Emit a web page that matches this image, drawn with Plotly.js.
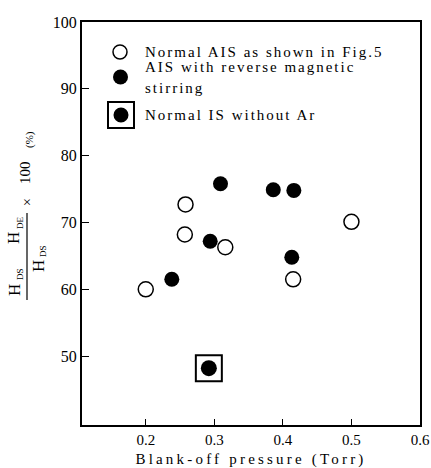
<!DOCTYPE html>
<html><head><meta charset="utf-8">
<script src="https://cdn.plot.ly/plotly-3.0.1.min.js"></script>
<style>html,body{margin:0;padding:0;background:#fff}</style>
</head><body>
<div id="chart" style="width:431px;height:468px"></div>
<script>
// Normal AIS as shown in Fig.5 (open circles)
const openX = [0.200, 0.258, 0.257, 0.316, 0.415, 0.500];
const openY = [60.0, 72.7, 68.2, 66.3, 61.5, 70.1];
// AIS with reverse magnetic stirring (filled circles)
const filledX = [0.238, 0.309, 0.294, 0.386, 0.416, 0.413];
const filledY = [61.5, 75.8, 67.2, 74.9, 74.8, 64.8];
// Normal IS without Ar (boxed filled circle)
const boxedX = [0.292];
const boxedY = [48.2];

const legendLines = ["Normal AIS as shown in Fig.5", "AIS with reverse magnetic", "stirring", "Normal IS without Ar"];
const xTicks = [0.2, 0.3, 0.4, 0.5, 0.6];
const yTicks = [50, 60, 70, 80, 90, 100];

const W = 431, H = 468, ML = 82, MR = 11, MT = 22, MB = 43;
const PW = W - ML - MR, PH = H - MT - MB;
const px = v => (v - ML) / PW;
const py = v => (H - MB - v) / PH;
const FONT = "Liberation Serif, Times New Roman, serif";

const traces = [
  {x: openX, y: openY, mode: "markers", type: "scatter", name: "Normal AIS as shown in Fig.5",
   marker: {symbol: "circle-open", size: 15, color: "#000", line: {width: 1.5, color: "#000"}}},
  {x: filledX, y: filledY, mode: "markers", type: "scatter", name: "AIS with reverse magnetic stirring",
   marker: {symbol: "circle", size: 15, color: "#000"}},
  {x: boxedX, y: boxedY, mode: "markers", type: "scatter", name: "Normal IS without Ar",
   marker: {symbol: "square-open", size: 26, color: "#000", line: {width: 2, color: "#000"}}},
  {x: boxedX, y: boxedY, mode: "markers", type: "scatter", name: "Normal IS without Ar", showlegend: false,
   marker: {symbol: "circle", size: 16, color: "#000"}}
];

const sp = (t, s, size) => '<span style="letter-spacing:' + s + 'px;font-size:' + size + 'px">' + t + '</span>';

function ann(xp, yp, text, size, extra) {
  return Object.assign({xref: "paper", yref: "paper", x: px(xp), y: py(yp), text: text, showarrow: false,
    xanchor: "center", yanchor: "middle", font: {family: FONT, size: size, color: "#000"}}, extra || {});
}
const rot = {textangle: -90};

const annotations = [
  ann(143, 52, sp(legendLines[0], 2.0, 15), 15, {xanchor: "left"}),
  ann(143, 67, sp(legendLines[1], 2.0, 15), 15, {xanchor: "left"}),
  ann(143, 88, sp(legendLines[2], 2.0, 15), 15, {xanchor: "left"}),
  ann(143, 115, sp(legendLines[3], 2.0, 15), 15, {xanchor: "left"}),
  // y axis label: (H_DS  H_DE) / H_DS x 100 (%)
  ann(14, 290, "H", 17, rot),
  ann(20, 274, "DS", 9, rot),
  ann(14, 238, "H", 17, rot),
  ann(20, 223, "DE", 9, rot),
  ann(38, 266, "H", 17, rot),
  ann(43, 251, "DS", 9, rot),
  ann(27, 202, "×", 14, rot),
  ann(25, 173, "100", 15, rot),
  ann(29, 140, "(%)", 11, rot)
];

const shapes = [
  // legend keys
  {type: "circle", xref: "paper", yref: "paper", x0: px(113), x1: px(127), y0: py(59), y1: py(45), line: {color: "#000", width: 1.5}},
  {type: "circle", xref: "paper", yref: "paper", x0: px(113), x1: px(128), y0: py(84.5), y1: py(69.5), fillcolor: "#000", line: {color: "#000", width: 0}},
  {type: "rect", xref: "paper", yref: "paper", x0: px(108), x1: px(134), y0: py(128), y1: py(102), line: {color: "#000", width: 2}},
  {type: "circle", xref: "paper", yref: "paper", x0: px(113.5), x1: px(128.5), y0: py(122.5), y1: py(107.5), fillcolor: "#000", line: {color: "#000", width: 0}},
  // fraction bar of y label
  {type: "line", xref: "paper", yref: "paper", x0: px(27), x1: px(27), y0: py(213), y1: py(300), line: {color: "#000", width: 1.2}}
];

const layout = {
  width: W, height: H,
  margin: {l: ML, r: MR, t: MT, b: MB},
  paper_bgcolor: "#fff", plot_bgcolor: "#fff",
  showlegend: false,
  font: {family: FONT, color: "#000", size: 15},
  xaxis: {
    range: [0.107, 0.6], tickvals: xTicks, ticktext: xTicks.map(v => v.toFixed(1)),
    ticks: "inside", ticklen: 6, tickwidth: 1.2, tickcolor: "#000",
    showline: true, linewidth: 2, linecolor: "#000", mirror: true,
    showgrid: false, zeroline: false,
    tickfont: {family: FONT, size: 15, color: "#000"},
    title: {text: sp("Blank-off pressure (Torr)", 3.2, 15), font: {family: FONT, size: 15, color: "#000"}, standoff: 6}
  },
  yaxis: {
    range: [39.7, 100], tickvals: yTicks, ticktext: yTicks.map(String),
    ticks: "inside", ticklen: 7, tickwidth: 1.2, tickcolor: "#000",
    showline: true, linewidth: 2, linecolor: "#000", mirror: true,
    showgrid: false, zeroline: false,
    tickfont: {family: FONT, size: 16, color: "#000"}
  },
  annotations: annotations,
  shapes: shapes
};

Plotly.newPlot("chart", traces, layout, {displayModeBar: false, staticPlot: true});
</script>
</body></html>
